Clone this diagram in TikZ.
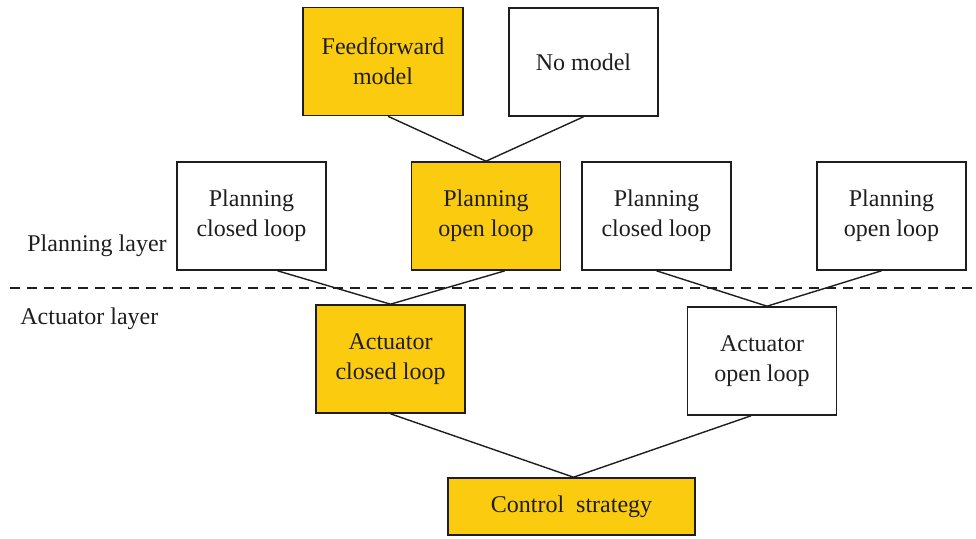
\documentclass[tikz,border=0pt]{standalone}
\usepackage{fontspec}
\setmainfont{Liberation Serif}
\usepackage{tikz}
\usetikzlibrary{calc}
\definecolor{gold}{HTML}{FBCB10}
\definecolor{ink}{HTML}{1E1E1E}
\tikzset{
  font=\fontsize{12}{15}\selectfont,
  box/.style   = {draw=ink, line width=0.8pt, align=center, inner sep=0pt,
                  text=ink, minimum width=74.5pt, minimum height=54pt},
  hot/.style   = {box, fill=gold},
  cold/.style  = {box, fill=white},
  link/.style  = {draw=ink, line width=0.7pt},
  split/.style = {draw=ink, line width=0.7pt, dash pattern=on 5pt off 3.5pt},
  layer/.style = {anchor=base west, inner sep=0pt, text=ink},
}

\begin{document}
\begin{tikzpicture}[x=0.5pt, y=-0.5pt]
\useasboundingbox (0,0) rectangle (976,539);

% ---- models (top row) -------------------------------------------------
\node[hot, minimum width=80pt] at (383,61.5) (ff) {Feedforward\\model};
\node[cold] at (583.5,62) (nm) {No model};

% ---- planning layer ---------------------------------------------------
\node[cold] at (251.5,216) (pcl) {Planning\\closed loop};
\node[hot]  at (486,216)   (pol) {Planning\\open loop};
\node[cold] at (656.5,216) (pcr) {Planning\\closed loop};
\node[cold] at (891.5,216) (por) {Planning\\open loop};

% ---- layer split ------------------------------------------------------
\coordinate (sl) at (10,288);
\coordinate (sr) at (976,288);
\draw[split] (sl) -- (sr);
\node[layer] at (27,252) (pl) {Planning layer};
\node[layer] at (20,325) (al) {Actuator layer};

% ---- actuator layer ---------------------------------------------------
\node[hot]  at (390.5,359) (acl) {Actuator\\closed loop};
\node[cold] at (762,361)   (aol) {Actuator\\open loop};

% ---- root -------------------------------------------------------------
\node[hot, minimum width=123.5pt, minimum height=28.5pt] at (571.5,506.5)
  (cs) {Control\ \ strategy};

% ---- tree edges -------------------------------------------------------
\draw[link] ([xshift=2.5pt]ff.south) -- (pol.north);
\draw[link] (nm.south) -- (pol.north);
\draw[link] ([xshift=13pt]pcl.south) -- (acl.north);
\draw[link] ([xshift=9.5pt]pol.south) -- (acl.north);
\draw[link] (pcr.south) -- ([xshift=2.5pt]aol.north);
\draw[link] ([xshift=-5pt]por.south) -- ([xshift=2.5pt]aol.north);
\draw[link] (acl.south) -- ([xshift=1pt]cs.north);
\draw[link] ([xshift=-5.5pt]aol.south) -- ([xshift=1pt]cs.north);

\end{tikzpicture}
\end{document}
